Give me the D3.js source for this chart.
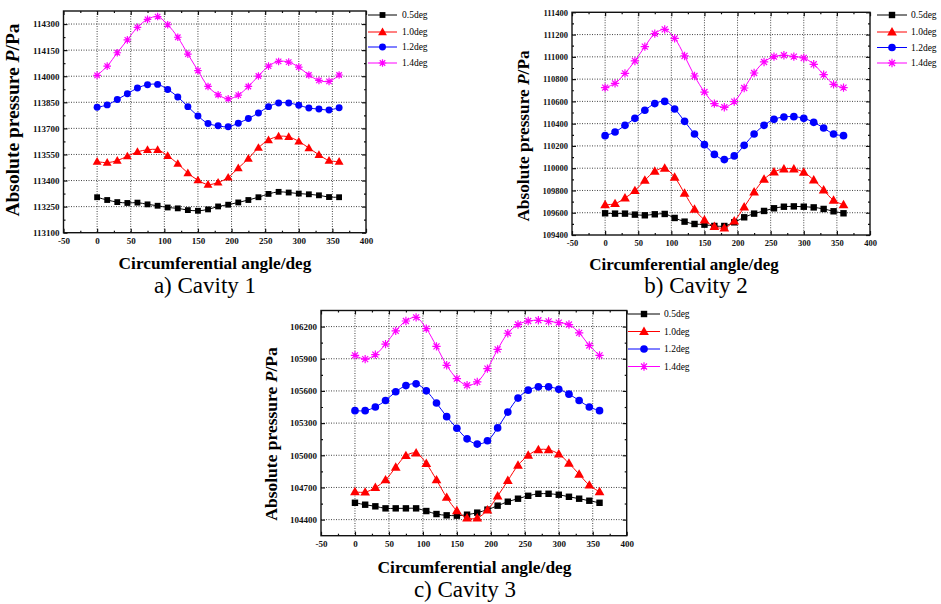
<!DOCTYPE html>
<meta charset="utf-8">

<style>
body { margin: 0; background: #fff; }
svg { font-family: "Liberation Serif", "Times New Roman", serif; }
.tickLabel text { font-weight: bold; }
.grid { stroke: #444; stroke-width: 1; stroke-dasharray: 1,1.5; }
.frame { fill: none; stroke: #111; stroke-width: 1.4; }
</style>

<svg id="chart" width="941" height="604"></svg>

<script src="https://cdn.jsdelivr.net/npm/d3@7"></script>

<script type="text/javascript">

// circumferential angle (deg)
const angles = [0, 15, 30, 45, 60, 75, 90, 105, 120, 135, 150, 165, 180,
  195, 210, 225, 240, 255, 270, 285, 300, 315, 330, 345, 360]

const seriesNames = ["0.5deg", "1.0deg", "1.2deg", "1.4deg"]
const xTicks = [-50, 0, 50, 100, 150, 200, 250, 300, 350, 400]

// cavity 1
const cav1_05 = [113304, 113288, 113276, 113271, 113273, 113263, 113255, 113245, 113240, 113230, 113226, 113234, 113251,
  113261, 113274, 113288, 113304, 113323, 113335, 113331, 113325, 113321, 113315, 113305, 113304]
const cav1_10 = [113509, 113503, 113515, 113540, 113565, 113577, 113577, 113542, 113497, 113443, 113402, 113377, 113389,
  113418, 113472, 113526, 113589, 113633, 113654, 113651, 113625, 113587, 113548, 113515, 113509]
const cav1_12 = [113821, 113835, 113866, 113899, 113932, 113951, 113953, 113924, 113881, 113825, 113771, 113728, 113715,
  113709, 113730, 113757, 113788, 113825, 113846, 113846, 113833, 113817, 113811, 113806, 113819]
const cav1_14 = [114005, 114058, 114135, 114209, 114281, 114327, 114343, 114296, 114224, 114127, 114032, 113941, 113893,
  113870, 113891, 113941, 114001, 114058, 114085, 114081, 114052, 114007, 113976, 113970, 114007]
const yTicks1 = [113100, 113250, 113400, 113550, 113700, 113850, 114000, 114150, 114300]

// cavity 2
const cav2_05 = [109595, 109592, 109592, 109583, 109577, 109586, 109589, 109553, 109520, 109499, 109493, 109481, 109481,
  109514, 109559, 109592, 109616, 109640, 109654, 109657, 109654, 109648, 109634, 109613, 109595]
const cav2_10 = [109672, 109681, 109732, 109798, 109891, 109972, 109999, 109918, 109774, 109631, 109535, 109475, 109463,
  109526, 109651, 109786, 109900, 109966, 109993, 109993, 109963, 109894, 109804, 109711, 109672]
const cav2_12 = [110292, 110325, 110385, 110448, 110520, 110580, 110600, 110532, 110421, 110307, 110211, 110124, 110077,
  110110, 110205, 110307, 110385, 110439, 110460, 110463, 110448, 110412, 110361, 110307, 110292]
const cav2_14 = [110723, 110762, 110852, 110963, 111092, 111208, 111247, 111166, 111008, 110828, 110684, 110580, 110547,
  110598, 110720, 110855, 110954, 111002, 111014, 111002, 110990, 110933, 110840, 110753, 110723]
const yTicks2 = [109400, 109600, 109800, 110000, 110200, 110400, 110600, 110800, 111000, 111200, 111400]

// cavity 3
const cav3_05 = [104557, 104539, 104524, 104505, 104505, 104505, 104505, 104480, 104452, 104440, 104437, 104446, 104465,
  104493, 104530, 104567, 104595, 104622, 104641, 104641, 104632, 104613, 104595, 104576, 104557]
const cav3_10 = [104659, 104656, 104699, 104770, 104888, 104996, 105021, 104922, 104770, 104607, 104483, 104415, 104415,
  104490, 104619, 104764, 104906, 104999, 105051, 105051, 105011, 104925, 104823, 104721, 104659]
const cav3_12 = [105416, 105416, 105450, 105511, 105592, 105650, 105666, 105601, 105487, 105360, 105252, 105153, 105104,
  105135, 105255, 105403, 105533, 105607, 105638, 105638, 105616, 105570, 105511, 105450, 105416]
const cav3_14 = [105931, 105897, 105938, 106036, 106160, 106252, 106286, 106181, 106015, 105839, 105715, 105653, 105684,
  105808, 105987, 106138, 106219, 106252, 106259, 106249, 106237, 106219, 106141, 106024, 105931]
const yTicks3 = [104400, 104700, 105000, 105300, 105600, 105900, 106200]

const colors = ["#000000", "#ff0000", "#0000ff", "#ff00ff"]
const shapes = ["square", "triangle", "circle", "star"]

const panels = [
  {caption: "a) Cavity 1", series: [cav1_05, cav1_10, cav1_12, cav1_14], yTicks: yTicks1, yMinor: 75,
   yDomain: [113100, 114375], left: 63.5, right: 366, top: 11, bottom: 232.7, tickFont: 9, ms: 1,
   legend: {x0: 368, x1: 397, tx: 402, rows: [15, 32, 47, 63]},
   xTitle: [215, 263, 17.3], yTitle: [12, 120, 19.5], cap: [205, 293]},
  {caption: "b) Cavity 2", series: [cav2_05, cav2_10, cav2_12, cav2_14], yTicks: yTicks2, yMinor: 100,
   yDomain: [109400, 111400], left: 572, right: 870, top: 12.3, bottom: 235, tickFont: 8.5, ms: 1.1,
   legend: {x0: 877, x1: 907, tx: 911, rows: [15, 32, 47.5, 63]},
   xTitle: [684, 264, 17], yTitle: [523, 136, 17.3], cap: [696, 293]},
  {caption: "c) Cavity 3", series: [cav3_05, cav3_10, cav3_12, cav3_14], yTicks: yTicks3, yMinor: 150,
   yDomain: [104250, 106350], left: 321, right: 626.7, top: 310.5, bottom: 535.7, tickFont: 9, ms: 1.1,
   legend: {x0: 628, x1: 660, tx: 664, rows: [314, 331.5, 349, 366.5]},
   xTitle: [474.5, 567, 17.4], yTitle: [271, 434, 17.5], cap: [465, 597]}
]

const svg = d3.select("#chart")
const plain = d => String(d)  //no thousands separator, ascii minus

function starPath(r) {
  const d = r * 0.72
  return `M0,${-r}L0,${r}M${-r},0L${r},0M${-d},${-d}L${d},${d}M${-d},${d}L${d},${-d}`
}

function drawMarker(g, shape, color, cx, cy, k) {
  if (shape === "star") {
    g.append("path")
      .attr("d", starPath(3.8 * k))
      .attr("transform", `translate(${cx},${cy})`)
      .attr("stroke", color)
      .attr("stroke-width", 1.2)
      .attr("fill", "none")
    return
  }
  const sym = shape === "square" ? d3.symbolSquare : shape === "triangle" ? d3.symbolTriangle : d3.symbolCircle
  const size = shape === "square" ? 34 : shape === "triangle" ? 34 : 38
  g.append("path")
    .attr("d", d3.symbol(sym, size * k * k)())
    .attr("transform", `translate(${cx},${cy + (shape === "triangle" ? 0.6 : 0)})`)
    .attr("fill", color)
}

panels.forEach(p => {
  const g = svg.append("g")

  const x = d3.scaleLinear().domain([-50, 400]).range([p.left, p.right])
  const y = d3.scaleLinear().domain(p.yDomain).range([p.bottom, p.top])

  //dotted grid on the major ticks
  g.selectAll(".gx")
    .data(xTicks.filter(v => v > -50 && v < 400))
    .join("line")
      .attr("class", "grid")
      .attr("x1", d => x(d)).attr("x2", d => x(d))
      .attr("y1", p.top).attr("y2", p.bottom)
  g.selectAll(".gy")
    .data(p.yTicks.filter(v => v > p.yDomain[0] && v < p.yDomain[1]))
    .join("line")
      .attr("class", "grid")
      .attr("x1", p.left).attr("x2", p.right)
      .attr("y1", d => y(d)).attr("y2", d => y(d))

  const xMinor = d3.range(-25, 400, 50)
  const yMinor = d3.range(p.yTicks[0] - p.yMinor, p.yDomain[1], p.yMinor * 2).filter(v => v > p.yDomain[0])

  //axes, ticks pointing inward
  const axes = [
    [d3.axisBottom(x).tickValues(xTicks).tickSize(-4).tickPadding(5).tickFormat(plain), `0,${p.bottom}`, true],
    [d3.axisBottom(x).tickValues(xMinor).tickSize(-2).tickFormat(""), `0,${p.bottom}`, false],
    [d3.axisTop(x).tickValues(xTicks).tickSize(-4).tickFormat(""), `0,${p.top}`, false],
    [d3.axisTop(x).tickValues(xMinor).tickSize(-2).tickFormat(""), `0,${p.top}`, false],
    [d3.axisLeft(y).tickValues(p.yTicks).tickSize(-4).tickPadding(4).tickFormat(plain), `${p.left},0`, true],
    [d3.axisLeft(y).tickValues(yMinor).tickSize(-2).tickFormat(""), `${p.left},0`, false],
    [d3.axisRight(y).tickValues(p.yTicks).tickSize(-4).tickFormat(""), `${p.right},0`, false],
    [d3.axisRight(y).tickValues(yMinor).tickSize(-2).tickFormat(""), `${p.right},0`, false]
  ]
  axes.forEach(([ax, tr, labels]) => {
    const a = g.append("g")
        .attr("transform", `translate(${tr})`)
        .attr("class", labels ? "tickLabel" : null)
      .call(ax)
    a.select(".domain").remove()
    a.selectAll("line").attr("stroke", "#111").attr("stroke-width", 1.2)
    a.selectAll("text")
      .attr("fill", "#111")
      .style("font-size", p.tickFont + "px")
      .style("font-family", "'Liberation Serif', serif")
  })

  g.append("rect")
    .attr("class", "frame")
    .attr("x", p.left).attr("y", p.top)
    .attr("width", p.right - p.left).attr("height", p.bottom - p.top)

  const line = d3.line()
    .x((d, i) => x(angles[i]))
    .y(d => y(d))
    .curve(d3.curveCatmullRom.alpha(0.5))

  p.series.forEach((vals, si) => {
    g.append("path")
      .attr("d", line(vals))
      .attr("fill", "none")
      .attr("stroke", colors[si])
      .attr("stroke-width", 1)
    vals.forEach((v, i) => drawMarker(g, shapes[si], colors[si], x(angles[i]), y(v), p.ms))

    //legend
    const ly = p.legend.rows[si]
    g.append("line")
      .attr("x1", p.legend.x0).attr("x2", p.legend.x1)
      .attr("y1", ly).attr("y2", ly)
      .attr("stroke", colors[si])
      .attr("stroke-width", 1)
    drawMarker(g, shapes[si], colors[si], (p.legend.x0 + p.legend.x1) / 2, ly, p.ms)
    g.append("text")
      .attr("x", p.legend.tx).attr("y", ly)
      .attr("dy", "0.35em")
      .style("font-size", "9.5px")
      .text(seriesNames[si])
  })

  g.append("text")
    .attr("x", p.xTitle[0]).attr("y", p.xTitle[1])
    .attr("dy", "0.35em")
    .attr("text-anchor", "middle")
    .style("font-weight", "bold")
    .style("font-size", p.xTitle[2] + "px")
    .text("Circumferential angle/deg")

  const yt = g.append("text")
    .attr("transform", `translate(${p.yTitle[0]},${p.yTitle[1]}) rotate(-90)`)
    .attr("dy", "0.35em")
    .attr("text-anchor", "middle")
    .style("font-weight", "bold")
    .style("font-size", p.yTitle[2] + "px")
  yt.append("tspan").text("Absolute pressure ")
  yt.append("tspan").style("font-style", "italic").text("P")
  yt.append("tspan").text("/Pa")

  g.append("text")
    .attr("x", p.cap[0]).attr("y", p.cap[1])
    .attr("text-anchor", "middle")
    .style("font-size", "23px")
    .text(p.caption)
})

</script>
